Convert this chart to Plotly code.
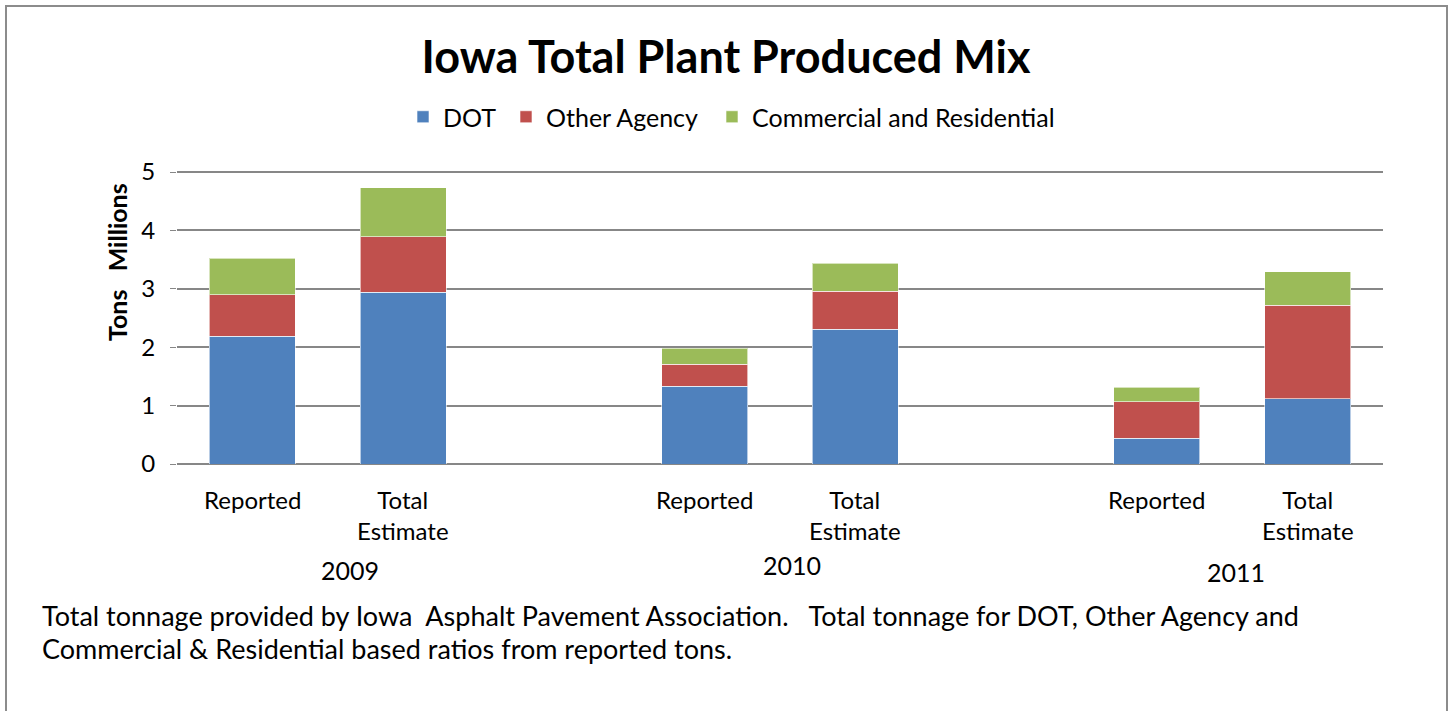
import plotly.graph_objects as go

# Stacked tonnage (millions of tons) per category slot; blank slots separate the years
slots = ["2009 Reported", "2009 Total Estimate", "gap1",
         "2010 Reported", "2010 Total Estimate", "gap2",
         "2011 Reported", "2011 Total Estimate"]
bar_slots = [0, 1, 3, 4, 6, 7]
bar_labels = ["Reported", "Total<br>Estimate", "Reported", "Total<br>Estimate",
              "Reported", "Total<br>Estimate"]
years = ["2009", "2010", "2011"]

dot = [2.19, 2.94, 1.33, 2.31, 0.44, 1.12]
other_agency = [0.71, 0.95, 0.38, 0.65, 0.63, 1.60]
commercial_residential = [0.62, 0.84, 0.27, 0.48, 0.24, 0.57]

W, H = 1452, 711
FONT = "Lato, 'Open Sans', sans-serif"
GRID = "#878787"
Y_TOP = 5.02
PX_PER_UNIT = 58.4

def px_x(p):
    return p / W

def px_y(p):
    return 1 - p / H

fig = go.Figure()
series = [
    ("DOT", dot, "#4F81BD", "legend", 403),
    ("Other Agency", other_agency, "#C0504D", "legend2", 506),
    ("Commercial and Residential", commercial_residential, "#9BBB59", "legend3", 712),
]
legend_layout = {}
for name, vals, color, leg, lx in series:
    fig.add_trace(go.Bar(
        x=bar_slots, y=vals, name=name, width=0.57, legend=leg, showlegend=True,
        marker=dict(color=color, line=dict(color="rgba(255,255,255,0.6)", width=1)),
    ))
    legend_layout[leg] = dict(
        visible=True,
        orientation="h", x=px_x(lx), xanchor="left", y=px_y(117), yanchor="middle",
        font=dict(family=FONT, size=25, color="#000"),
        bgcolor="rgba(0,0,0,0)",
    )

annotations = []
# Category labels under each bar
for xs, lab in zip(bar_slots, bar_labels):
    annotations.append(dict(
        x=xs, xref="x", xanchor="center", y=px_y(483), yref="paper", yanchor="top",
        text=lab, showarrow=False, align="center",
        font=dict(family=FONT, size=24, color="#000"),
    ))
# Year labels
for yr, xp, yp in zip(years, [350, 792, 1236], [570, 565, 572]):
    annotations.append(dict(
        x=px_x(xp), xref="paper", xanchor="center",
        y=px_y(yp), yref="paper", yanchor="middle",
        text=yr, showarrow=False,
        font=dict(family=FONT, size=25, color="#000"),
    ))
# Axis title
annotations.append(dict(
    x=px_x(117), xref="paper", xanchor="center",
    y=px_y(262), yref="paper", yanchor="middle",
    text="<b>Tons   Millions</b>", textangle=-90, showarrow=False,
    font=dict(family=FONT, size=25, color="#000"),
))
# Footnote
annotations.append(dict(
    x=px_x(40), xref="paper", xanchor="left", y=px_y(615), yref="paper", yanchor="middle",
    text="Total tonnage provided by Iowa  Asphalt Pavement Association.   "
         "Total tonnage for DOT, Other Agency and",
    showarrow=False, font=dict(family=FONT, size=27, color="#000"),
))
annotations.append(dict(
    x=px_x(40), xref="paper", xanchor="left", y=px_y(648), yref="paper", yanchor="middle",
    text="Commercial & Residential based ratios from reported tons.",
    showarrow=False, font=dict(family=FONT, size=27, color="#000"),
))

fig.update_layout(
    width=W, height=H,
    margin=dict(l=0, r=0, t=0, b=0, autoexpand=False),
    paper_bgcolor="white", plot_bgcolor="white",
    barmode="stack",
    showlegend=True,
    title=dict(
        text="<b>Iowa Total Plant Produced Mix</b>",
        x=0.5, xanchor="center", y=px_y(57), yanchor="middle",
        font=dict(family=FONT, size=45, color="#000"),
    ),
    xaxis=dict(
        domain=[px_x(177), px_x(1383)], range=[-0.5, 7.5],
        showticklabels=False, showgrid=False, zeroline=False, fixedrange=True,
    ),
    yaxis=dict(
        domain=[px_y(464), px_y(464 - Y_TOP * PX_PER_UNIT)], range=[0, Y_TOP],
        tickvals=[0, 1, 2, 3, 4, 5],
        showgrid=True, gridcolor=GRID, gridwidth=2,
        zeroline=True, zerolinecolor=GRID, zerolinewidth=2,
        ticks="outside", ticklen=6, tickcolor=GRID, tickwidth=1,
        ticklabelstandoff=10,
        tickfont=dict(family=FONT, size=24, color="#000"),
    ),
    annotations=annotations,
    shapes=[dict(
        type="rect", xref="paper", yref="paper",
        x0=px_x(6), x1=px_x(1447), y0=px_y(730), y1=px_y(6),
        line=dict(color="#8c8c8c", width=2), fillcolor="rgba(0,0,0,0)",
    )],
    **legend_layout,
)

fig.write_html("out.html")
